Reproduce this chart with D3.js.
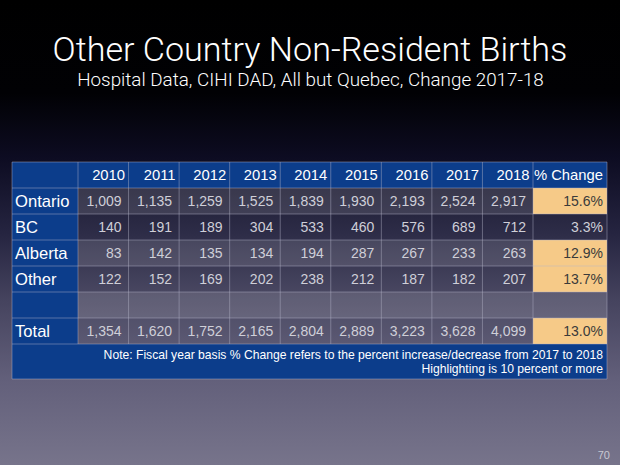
<!DOCTYPE html>
<meta charset="utf-8">
<style>
body{margin:0;background:#000;}
text{font-family:"Liberation Sans",Arial,sans-serif;}
.title{fill:#fff;font-family:Roboto,"Liberation Sans",sans-serif;font-weight:300;text-anchor:middle;}
.cell{fill:#cfcfd8;font-size:14px;text-anchor:end;}
.hot{fill:#3a3a3a;}
.head{fill:#fff;font-size:14.8px;text-anchor:end;}
.rowlab{fill:#fff;font-size:16.6px;}
.note{fill:#fff;font-size:12px;text-anchor:end;}
</style>
<body>
<script src="https://d3js.org/d3.v7.min.js"></script>
<script>

var years = ["2010","2011","2012","2013","2014","2015","2016","2017","2018"];
var rowNames = ["Ontario","BC","Alberta","Other","","Total"];
var ontario = [1009,1135,1259,1525,1839,1930,2193,2524,2917];
var bc      = [140,191,189,304,533,460,576,689,712];
var alberta = [83,142,135,134,194,287,267,233,263];
var other   = [122,152,169,202,238,212,187,182,207];
var total   = [1354,1620,1752,2165,2804,2889,3223,3628,4099];
var pctChange = [15.6,3.3,12.9,13.7,null,13.0];
var highlightAt = 10;

var W = 620, H = 465;
var svg = d3.select("body").append("svg").attr("width",W).attr("height",H);

// slide background
var grad = svg.append("defs").append("linearGradient").attr("id","bg")
	.attr("x1",0).attr("y1",0).attr("x2",0).attr("y2",1);
[[0,"#000"],[0.2,"#010104"],[0.34,"#0d0c22"],[0.5,"#252440"],[0.65,"#46445f"],[0.82,"#63607b"],[1,"#77748b"]]
	.forEach(function(s){ grad.append("stop").attr("offset",s[0]).attr("stop-color",s[1]); });
svg.append("rect").attr("width",W).attr("height",H).attr("fill","url(#bg)");

function fit(sel, width){
	var len = sel.node().getComputedTextLength();
	var fs = parseFloat(sel.style("font-size"));
	sel.style("font-size", (fs*width/len)+"px");
}

var t = svg.append("text").attr("class","title").attr("x",310).attr("y",61)
	.style("font-size","33px").text("Other Country Non-Resident Births");
fit(t,515);
var st = svg.append("text").attr("class","title").attr("x",310.5).attr("y",86)
	.style("font-size","17.5px").text("Hospital Data, CIHI DAD, All but Quebec, Change 2017-18");
fit(st,467);

// table layout
var left = 12, labW = 66, pctW = 74, right = 607;
var x = d3.scaleBand().domain(years).range([left+labW, right-pctW]);
var rowKeys = ["head"].concat(rowNames.map(function(d,i){ return "r"+i; }));
var y = d3.scaleBand().domain(rowKeys).range([162,344]);
var noteTop = 344, noteBot = 379;
var blue = "#0c3d8b", orange = "#f6ca88", grid = "rgba(180,180,200,0.45)";

var rows = [ontario,bc,alberta,other,null,total];
var g = svg.append("g");

// header row and label column
g.append("rect").attr("x",left).attr("y",y("head")).attr("width",right-left).attr("height",y.bandwidth()).attr("fill",blue);
g.append("rect").attr("x",left).attr("y",y("head")).attr("width",labW).attr("height",y.range()[1]-y("head")).attr("fill",blue);
g.append("rect").attr("x",left).attr("y",noteTop).attr("width",right-left).attr("height",noteBot-noteTop).attr("fill",blue);

rowNames.forEach(function(name,i){
	var ry = y("r"+i);
	g.append("rect").attr("x",left+labW).attr("y",ry).attr("width",right-pctW-left-labW).attr("height",y.bandwidth())
		.attr("fill","#fff").attr("fill-opacity", i%2==0 ? 0.15 : 0.04);
	var p = pctChange[i];
	g.append("rect").attr("x",right-pctW).attr("y",ry).attr("width",pctW).attr("height",y.bandwidth())
		.attr("fill", p!=null && p>=highlightAt ? orange : "#fff")
		.attr("fill-opacity", p!=null && p>=highlightAt ? 1 : (i%2==0 ? 0.15 : 0.04));
	g.append("text").attr("class","rowlab").attr("x",left+3).attr("y",ry+y.bandwidth()/2+6).text(name);
	if(rows[i]){
		g.selectAll(null).data(rows[i]).enter().append("text").attr("class","cell")
			.attr("x",function(d,j){ return x(years[j])+x.bandwidth()-7; })
			.attr("y",ry+y.bandwidth()/2+5)
			.text(d3.format(","));
	}
	if(p!=null){
		g.append("text").attr("class", p>=highlightAt ? "cell hot" : "cell")
			.attr("x",right-4).attr("y",ry+y.bandwidth()/2+5).text(p.toFixed(1)+"%");
	}
});

// header texts
g.selectAll(".yr").data(years).enter().append("text").attr("class","head")
	.attr("x",function(d){ return x(d)+x.bandwidth()-3.5; })
	.attr("y",y("head")+y.bandwidth()/2+5).text(function(d){ return d; });
g.append("text").attr("class","head").attr("x",right-4).attr("y",y("head")+y.bandwidth()/2+5).text("% Change");

// grid lines
var cols = [left, left+labW].concat(years.map(function(d){ return x(d)+x.bandwidth(); })).concat([right]);
g.selectAll(".vl").data(cols).enter().append("line")
	.attr("x1",function(d){ return d; }).attr("x2",function(d){ return d; })
	.attr("y1",y("head")).attr("y2",y.range()[1])
	.attr("stroke",grid).attr("stroke-width",1);
var hls = rowKeys.map(function(k){ return y(k); }).concat([y.range()[1], noteBot]);
g.selectAll(".hl").data(hls).enter().append("line")
	.attr("x1",left).attr("x2",right)
	.attr("y1",function(d){ return d; }).attr("y2",function(d){ return d; })
	.attr("stroke",grid).attr("stroke-width",1);
g.append("line").attr("x1",left).attr("x2",left).attr("y1",noteTop).attr("y2",noteBot).attr("stroke",grid);
g.append("line").attr("x1",right).attr("x2",right).attr("y1",noteTop).attr("y2",noteBot).attr("stroke",grid);

var n1 = g.append("text").attr("class","note").attr("x",603).attr("y",358.5)
	.text("Note:  Fiscal year basis % Change refers to the percent increase/decrease from 2017 to 2018");
fit(n1,500);
var n2 = g.append("text").attr("class","note").attr("x",603).attr("y",373)
	.style("font-size",n1.style("font-size")).text("Highlighting is 10 percent or more");

svg.append("text").attr("x",610).attr("y",459).attr("text-anchor","end")
	.style("font-size","11px").attr("fill","#c8c8d2").text("70");
</script>
</body>
